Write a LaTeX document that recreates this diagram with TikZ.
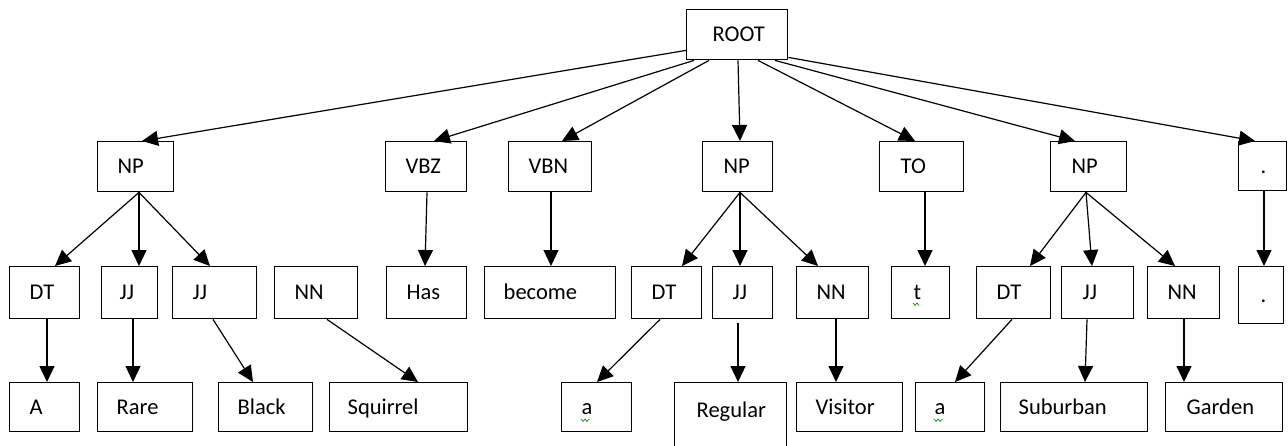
\documentclass[tikz,border=0pt]{standalone}
\usepackage{fontspec}
\setmainfont{Carlito}
\usetikzlibrary{arrows.meta}
\tikzset{
  bx/.style={draw=black, line width=1.4pt, inner sep=0pt, anchor=north west,
    text height=17pt, text depth=3pt, font=\fontsize{22.5pt}{25pt}\selectfont},
  ed/.style={-{Triangle[length=16pt,width=15pt]}, line width=1.2pt, black},
  squig/.style={draw=green!55!black, line width=0.7pt}
}
% name, x, y, width, height, left padding, text
\newcommand\bx[8][]{\node[bx, minimum height=#6pt, #1] (#2) at (#3,#4) {\makebox[#5pt][l]{\hspace*{#7pt}#8}};}
\begin{document}
\begin{tikzpicture}[x=1pt,y=-1pt]
\useasboundingbox (0,0) rectangle (1288,445);
\clip (0,0) rectangle (1288,445);
% row 1
\bx{root}{686}{9}{101}{50}{26}{ROOT}
% row 2
\bx{np1}{97}{141}{76}{50}{20}{NP}
\bx{vbz}{385}{141}{81}{50}{20}{VBZ}
\bx{vbn}{508}{141}{83}{50}{20}{VBN}
\bx{np2}{702}{141}{70}{50}{21}{NP}
\bx{to}{879}{141}{84}{50}{21}{TO}
\bx{np3}{1050}{141}{76}{50}{21}{NP}
\bx{pd1}{1238}{141}{48}{49}{22}{.}
% row 3
\bx{dt1}{9}{266}{70}{52}{20}{DT}
\bx{jj1}{101}{266}{56}{52}{18}{JJ}
\bx{jj2}{172}{266}{84}{52}{20}{JJ}
\bx{nn1}{274}{266}{83}{52}{20}{NN}
\bx{has}{386}{266}{80}{52}{20}{Has}
\bx{become}{484}{266}{131}{52}{19}{become}
\bx{dt2}{631}{266}{70}{52}{20}{DT}
\bx{jj3}{712}{266}{60}{52}{20}{JJ}
\bx{nn2}{796}{266}{72}{52}{20}{NN}
\bx{t}{891}{266}{58}{52}{22}{t}
\bx{dt3}{976}{266}{74}{52}{20}{DT}
\bx{jj4}{1061}{266}{72}{52}{21}{JJ}
\bx{nn3}{1147}{266}{72}{52}{20}{NN}
\bx{pd2}{1238}{266}{45}{57}{22}{.}
% row 4
\bx{wA}{9}{382}{70}{49}{20}{A}
\bx{rare}{97}{382}{95}{49}{19}{Rare}
\bx{black}{218}{382}{94}{49}{19}{Black}
\bx{squirrel}{329}{382}{138}{49}{18}{Squirrel}
\bx{a1}{561}{382}{70}{49}{20}{a}
\bx[text depth=27pt]{regular}{674}{382}{112}{80}{22}{Regular}
\bx{visitor}{796}{382}{106}{49}{19}{Visitor}
\bx{a2}{915}{382}{69}{49}{19}{a}
\bx{suburban}{1000}{382}{147}{49}{18}{Suburban}
\bx{garden}{1165}{382}{117}{49}{21}{Garden}
% edges from ROOT
\draw[ed] ([yshift=10pt]root.south west) -- ([xshift=45pt]np1.north west);
\draw[ed] ([xshift=8pt]root.south west) -- ([xshift=49pt]vbz.north west);
\draw[ed] ([xshift=23pt]root.south west) -- ([xshift=54pt]vbn.north west);
\draw[ed] ([xshift=52pt]root.south west) -- ([xshift=38pt]np2.north west);
\draw[ed] ([xshift=72pt]root.south west) -- ([xshift=36pt]to.north west);
\draw[ed] ([xshift=89pt]root.south west) -- ([xshift=25pt]np3.north west);
\draw[ed] ([yshift=3pt]root.south east) -- ([xshift=17pt]pd1.north west);
% row 2 -> row 3
\draw[ed] ([xshift=42pt]np1.south west) -- ([xshift=46pt]dt1.north west);
\draw[ed] ([xshift=42pt]np1.south west) -- ([xshift=38pt]jj1.north west);
\draw[ed] ([xshift=42pt]np1.south west) -- ([xshift=38pt]jj2.north west);
\draw[ed] ([xshift=42pt]vbz.south west) -- ([xshift=39pt]has.north west);
\draw[ed] ([xshift=43pt]vbn.south west) -- ([xshift=67pt]become.north west);
\draw[ed] ([xshift=38pt]np2.south west) -- ([xshift=51pt]dt2.north west);
\draw[ed] ([xshift=38pt]np2.south west) -- ([xshift=28pt]jj3.north west);
\draw[ed] ([xshift=38pt]np2.south west) -- ([xshift=22pt]nn2.north west);
\draw[ed] ([xshift=46pt]to.south west) -- ([xshift=34pt]t.north west);
\draw[ed] ([xshift=36pt]np3.south west) -- ([xshift=54pt]dt3.north west);
\draw[ed] ([xshift=36pt]np3.south west) -- ([xshift=31pt]jj4.north west);
\draw[ed] ([xshift=36pt]np3.south west) -- ([xshift=28pt]nn3.north west);
\draw[ed] ([xshift=26pt]pd1.south west) -- ([xshift=26pt]pd2.north west);
% row 3 -> row 4
\draw[ed] ([xshift=38pt]dt1.south west) -- ([xshift=38pt]wA.north west);
\draw[ed] ([xshift=32pt]jj1.south west) -- ([xshift=36pt]rare.north west);
\draw[ed] ([xshift=41pt]jj2.south west) -- ([xshift=35pt]black.north west);
\draw[ed] ([xshift=53pt]nn1.south west) -- ([xshift=89pt]squirrel.north west);
\draw[ed] ([xshift=29pt]dt2.south west) -- ([xshift=36pt]a1.north west);
\draw[ed] ([xshift=26pt,yshift=-4pt]jj3.south west) -- ([xshift=64pt]regular.north west);
\draw[ed] ([xshift=40pt]nn2.south west) -- ([xshift=40pt]visitor.north west);
\draw[ed] ([xshift=36pt]dt3.south west) -- ([xshift=40pt]a2.north west);
\draw[ed] ([xshift=26pt]jj4.south west) -- ([xshift=85pt]suburban.north west);
\draw[ed] ([xshift=37pt]nn3.south west) -- ([xshift=19pt]garden.north west);
% green spelling marks
\path[squig] (581,419) -- (583,421.5) -- (585,419) -- (587,421.5) -- (589,419);
\path[squig] (934,419) -- (936,421.5) -- (938,419) -- (940,421.5) -- (942,419);
\path[squig] (913,303) -- (915,305.5) -- (917,303) -- (919,305.5);
\end{tikzpicture}
\end{document}
